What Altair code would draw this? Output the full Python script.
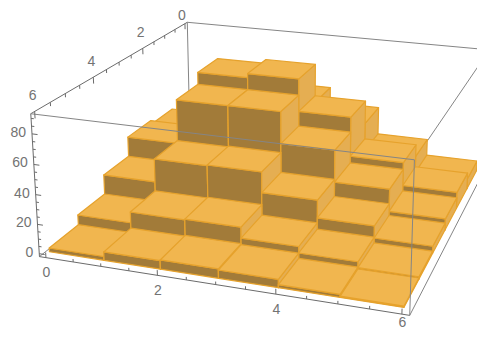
import altair as alt
import numpy as np

# heights of the 6x6 histogram: one list per row, back (y 0-1) to front (y 5-6), columns x 0..5
row_0 = [15, 45, 53, 41, 20, 7.5]
row_1 = [35, 79, 82, 58, 29, 12]
row_2 = [38, 70, 70, 47, 24, 8]
row_3 = [23.5, 40, 40.5, 26, 13.5, 5]
row_4 = [9.5, 17, 17.5, 10, 5.6, 1.6]
row_5 = [2.6, 5.7, 6.2, 5.5, 2, 0.8]
rows = [row_0, row_1, row_2, row_3, row_4, row_5]

x_major = [0, 2, 4, 6]
y_major = [0, 2, 4, 6]
z_major = [0, 20, 40, 60, 80]
x_minor = [0.5, 1, 1.5, 2.5, 3, 3.5, 4.5, 5, 5.5]
y_minor = [0.5, 1, 1.5, 2.5, 3, 3.5, 4.5, 5, 5.5]
z_minor = [5, 10, 15, 25, 30, 35, 45, 50, 55, 65, 70, 75, 85, 90]

# axis box limits
xl, xh, yl, yh, zl, zh = -0.12, 6.12, -0.12, 6.12, -2, 93

# view of the 3D scene
CAM = np.array([[41.8015165, -25.6707986, -0.0800838, 192.8847565],
                [3.7543787, 10.3063095, -1.2106668, 136.1177865],
                [-0.0115104, -0.0356222, -0.0002783, 1.0]])

TOP, FRONT, SIDE, EDGE = "#F1B64F", "#A27B39", "#E5AE52", "#E6A22C"
AXIS, BOX, LABEL = "#6B6B6B", "#858585", "#737373"


def pr(x, y, z):
    w = CAM @ np.array([x, y, z, 1.0])
    return [float(w[0] / w[2]), float(w[1] / w[2])]


def poly(points, fill):
    ring = [pr(*p) for p in points]
    ring.append(ring[0])
    return {"type": "Feature", "properties": {"fill": fill},
            "geometry": {"type": "Polygon", "coordinates": [ring]}}


def seg(a, b, color=""):
    return {"type": "Feature", "properties": {"color": color},
            "geometry": {"type": "LineString", "coordinates": [pr(*a), pr(*b)]}}


def fc(features):
    return alt.InlineData(values={"type": "FeatureCollection", "features": features},
                          format=alt.DataFormat(property="features", type="json"))


view = dict(type="identity", scale=1, translate=[-8, -8])

faces = []
for j, row in enumerate(rows):
    for i, h in enumerate(row):
        x0, x1, y0, y1 = i, i + 1, j, j + 1
        faces.append(poly([(x0, y1, 0), (x1, y1, 0), (x1, y1, h), (x0, y1, h)], FRONT))
        faces.append(poly([(x1, y1, 0), (x1, y0, 0), (x1, y0, h), (x1, y1, h)], SIDE))
        faces.append(poly([(x0, y1, h), (x1, y1, h), (x1, y0, h), (x0, y0, h)], TOP))

back = [
    seg((xl, yl, zh), (xh, yl, zh), BOX), seg((xl, yl, zh), (xl, yl, zl), BOX),
    seg((xh, yl, zh), (xh, yl, zl), BOX), seg((xl, yl, zl), (xh, yl, zl), BOX),
    seg((xl, yl, zl), (xl, yh, zl), BOX), seg((xh, yl, zl), (xh, yh, zl), BOX),
    seg((xl, yh, zh), (xl, yl, zh), AXIS), seg((xh, yh, zh), (xh, yl, zh), BOX),
]
front = [
    seg((xl, yh, zl), (xh, yh, zl), AXIS), seg((xl, yh, zl), (xl, yh, zh), AXIS),
    seg((xl, yh, zh), (xh, yh, zh), BOX), seg((xh, yh, zh), (xh, yh, zl), BOX),
]
for v, t in ([(v, 3.5) for v in x_major] + [(v, 2.0) for v in x_minor]):
    front.append(seg((v, yh, zl), (v, yh, zl + t), AXIS))
for v, t in ([(v, 4.5) for v in y_major] + [(v, 2.5) for v in y_minor]):
    front.append(seg((xl, v, zh), (xl, v, zh - t), AXIS))
for v, t in ([(v, .1) for v in z_major] + [(v, .05) for v in z_minor]):
    front.append(seg((xl, yh, v), (xl + t, yh, v), AXIS))

line_enc = dict(stroke=alt.Stroke("properties.color:N", scale=None))
bars = alt.Chart(fc(faces)).mark_geoshape(stroke=EDGE, strokeWidth=1.2, strokeJoin="round").encode(
    fill=alt.Fill("properties.fill:N", scale=None)).project(**view)
back_l = alt.Chart(fc(back)).mark_geoshape(filled=False, strokeWidth=1).encode(**line_enc).project(**view)
front_l = alt.Chart(fc(front)).mark_geoshape(filled=False, strokeWidth=1).encode(**line_enc).project(**view)


def labels(items, dx, dy, align):
    recs = [{"lon": p[0], "lat": p[1], "label": t} for p, t in items]
    return alt.Chart(alt.Data(values=recs)).mark_text(
        align=align, baseline="middle", fontSize=14, font="Liberation Sans", color=LABEL, dx=dx, dy=dy
    ).encode(longitude="lon:Q", latitude="lat:Q", text="label:N").project(**view)


x_text = labels([(pr(v, yh, zl), str(v)) for v in x_major[:3]], 0.5, 15.5, "center")
x_last = labels([(pr(x_major[3], yh, zl), str(x_major[3]))], 0.5, 9, "center")
y_text = labels([(pr(xl, v, zh), str(v)) for v in y_major[1:]], -2, -15, "center")
y_first = labels([(pr(xl, y_major[0], zh), str(y_major[0]))], -3, -8, "center")
z_text = labels([(pr(xl, yh, v), str(v)) for v in z_major], -6, -1, "right")

chart = alt.layer(back_l, bars, front_l, x_text, x_last, y_text, y_first, z_text).properties(
    width=469, height=321, padding=0, autosize=alt.AutoSizeParams(type="none")
).configure_view(stroke=None)
chart.save("out.html", embed_options={"renderer": "svg", "actions": False})
